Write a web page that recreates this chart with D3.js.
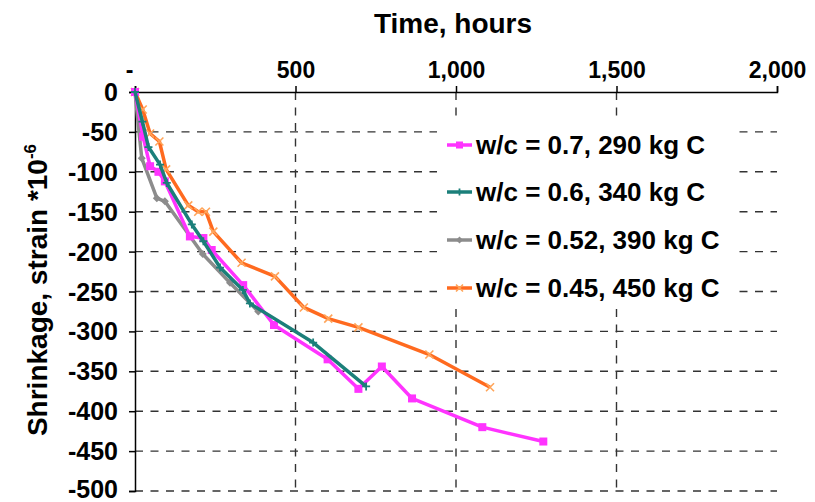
<!DOCTYPE html>
<html>
<head>
<meta charset="utf-8">
<script src="https://cdn.jsdelivr.net/npm/d3@7"></script>
<style>
  html, body { margin: 0; padding: 0; background: #fff; }
  svg { display: block; font-family: "Liberation Sans", Arial, Helvetica, sans-serif; }
</style>
</head>
<body>
<svg id="chart" width="815" height="502"></svg>
<script>
// Drying shrinkage of concrete mixes over time (hours)
const seriesNames = [
  "w/c = 0.7, 290 kg C",
  "w/c = 0.6, 340 kg C",
  "w/c = 0.52, 390 kg C",
  "w/c = 0.45, 450 kg C"
];
const seriesColors = ["#FF33FF", "#1B7F7A", "#8C8C8C", "#FF6A1F"];
const markerColors = ["#FF33FF", "#1B7F7A", "#8C8C8C", "#FFA55A"];
const markerShapes = ["square", "plus", "diamond", "cross"];

// time (hours) and shrinkage (strain x 10^-6) for each mix
const hours070 = [0, 25, 47, 73, 93, 171, 213, 239, 337, 433, 600, 696, 769, 863, 1082, 1272];
const strain070 = [0, -56, -93, -100, -112, -181, -183, -198, -242, -292, -335, -372, -344, -384, -420, -438];

const hours060 = [0, 23, 42, 78, 99, 177, 213, 265, 336, 358, 555, 720];
const strain060 = [0, -37, -69, -91, -114, -166, -187, -220, -248, -265, -314, -369];

const hours052 = [0, 21, 68, 93, 211, 296, 384];
const strain052 = [0, -83, -133, -137, -203, -239, -275];

const hours045 = [0, 24, 47, 76, 97, 166, 197, 221, 244, 332, 436, 526, 602, 696, 917, 1106];
const strain045 = [0, -22, -52, -62, -97, -142, -150, -150, -175, -214, -231, -270, -284, -295, -329, -370];

const xTicks = [0, 500, 1000, 1500, 2000];
const yTicks = [0, -50, -100, -150, -200, -250, -300, -350, -400, -450, -500];

const seriesData = [
  [hours070, strain070],
  [hours060, strain060],
  [hours052, strain052],
  [hours045, strain045]
].map(([h, s]) => h.map((t, i) => ({ t, v: s[i] })));

const svg = d3.select("#chart");
const plotLeft = 135, plotRight = 777, plotTop = 92, plotBottom = 491;

const x = d3.scaleLinear().domain([0, 2000]).range([plotLeft, plotRight]);
const y = d3.scaleLinear().domain([-500, 0]).range([plotBottom, plotTop]);

// dashed grid
const grid = svg.append("g").attr("stroke", "#333").attr("stroke-width", 1.4)
  .attr("stroke-dasharray", "8,7.5");
grid.selectAll("line.h").data(yTicks.filter(d => d !== 0)).join("line")
  .attr("x1", plotLeft).attr("x2", plotRight)
  .attr("y1", d => y(d)).attr("y2", d => y(d));
grid.selectAll("line.v").data(xTicks.filter(d => d !== 0 && d !== 2000)).join("line")
  .attr("x1", d => x(d)).attr("x2", d => x(d))
  .attr("y1", plotTop).attr("y2", plotBottom);

// axes
const fmt = d3.format(",");
const xAxis = svg.append("g").attr("transform", `translate(0,${plotTop})`)
  .call(d3.axisTop(x).tickValues(xTicks).tickSize(6).tickPadding(8)
    .tickFormat(d => d === 0 ? "-" : fmt(d)));
const yAxis = svg.append("g").attr("transform", `translate(${plotLeft},0)`)
  .call(d3.axisLeft(y).tickValues(yTicks).tickSize(6).tickPadding(11)
    .tickFormat(d => String(d)));

[xAxis, yAxis].forEach(a => {
  a.select(".domain").attr("stroke", "#000").attr("stroke-width", 1.5);
  a.selectAll(".tick line").attr("stroke", "#000").attr("stroke-width", 1.5);
  a.selectAll(".tick text").attr("fill", "#000")
    .attr("font-weight", "bold").attr("font-family", "'Liberation Sans', Arial, sans-serif");
});
xAxis.selectAll(".tick text").attr("font-size", 23);
yAxis.selectAll(".tick text").attr("font-size", 25).attr("dy", "0.34em");
yAxis.selectAll(".tick text").filter(d => d === -500).attr("dy", "0.24em");
xAxis.selectAll(".tick text").filter(d => d === 0).attr("dx", -6);

// axis titles
svg.append("text").attr("x", 453).attr("y", 33).attr("text-anchor", "middle")
  .attr("font-size", 28).attr("font-weight", "bold").text("Time, hours");

const yTitle = svg.append("text")
  .attr("transform", "translate(47,290) rotate(-90)")
  .attr("text-anchor", "middle").attr("font-size", 28).attr("font-weight", "bold");
yTitle.append("tspan").text("Shrinkage, strain *10");
yTitle.append("tspan").attr("font-size", 17).attr("dy", -11).text("-6");

// marker drawing
function drawMarker(g, shape, color, size) {
  const s = size / 2;
  if (shape === "square") {
    g.append("rect").attr("x", -s).attr("y", -s).attr("width", size).attr("height", size).attr("fill", color);
  } else if (shape === "diamond") {
    g.append("path").attr("d", `M0,${-s}L${s},0L0,${s}L${-s},0Z`).attr("fill", color);
  } else if (shape === "plus") {
    g.append("path").attr("d", `M${-s},0H${s}M0,${-s}V${s}`).attr("stroke", color).attr("stroke-width", 1.8);
  } else if (shape === "cross") {
    g.append("path").attr("d", `M${-s},${-s}L${s},${s}M${-s},${s}L${s},${-s}`).attr("stroke", color).attr("stroke-width", 1.6);
  }
}

const line = d3.line().x(d => x(d.t)).y(d => y(d.v));
const plot = svg.append("g");
// draw order: orange at back, magenta/teal on top
[3, 2, 0, 1].forEach(i => {
  const g = plot.append("g");
  g.append("path").datum(seriesData[i]).attr("d", line)
    .attr("fill", "none").attr("stroke", seriesColors[i]).attr("stroke-width", 3.5)
    .attr("stroke-linejoin", "round");
  g.selectAll("g.m").data(seriesData[i]).join("g")
    .attr("transform", d => `translate(${x(d.t)},${y(d.v)})`)
    .each(function () { drawMarker(d3.select(this), markerShapes[i], markerColors[i], 8); });
});

// legend
const legend = svg.append("g");
legend.append("rect").attr("x", 437).attr("y", 117).attr("width", 298).attr("height", 192).attr("fill", "#fff");
const rowY = [145, 192, 240, 288];
seriesNames.forEach((name, i) => {
  const r = legend.append("g").attr("transform", `translate(0,${rowY[i]})`);
  r.append("line").attr("x1", 447).attr("x2", 472).attr("y1", 0).attr("y2", 0)
    .attr("stroke", seriesColors[i]).attr("stroke-width", 3.5);
  drawMarker(r.append("g").attr("transform", "translate(459.5,0)"), markerShapes[i], markerColors[i], 7);
  r.append("text").attr("x", 476).attr("y", 9).attr("font-size", 26).attr("font-weight", "bold")
    .attr("fill", "#000").text(name);
});
</script>
</body>
</html>
